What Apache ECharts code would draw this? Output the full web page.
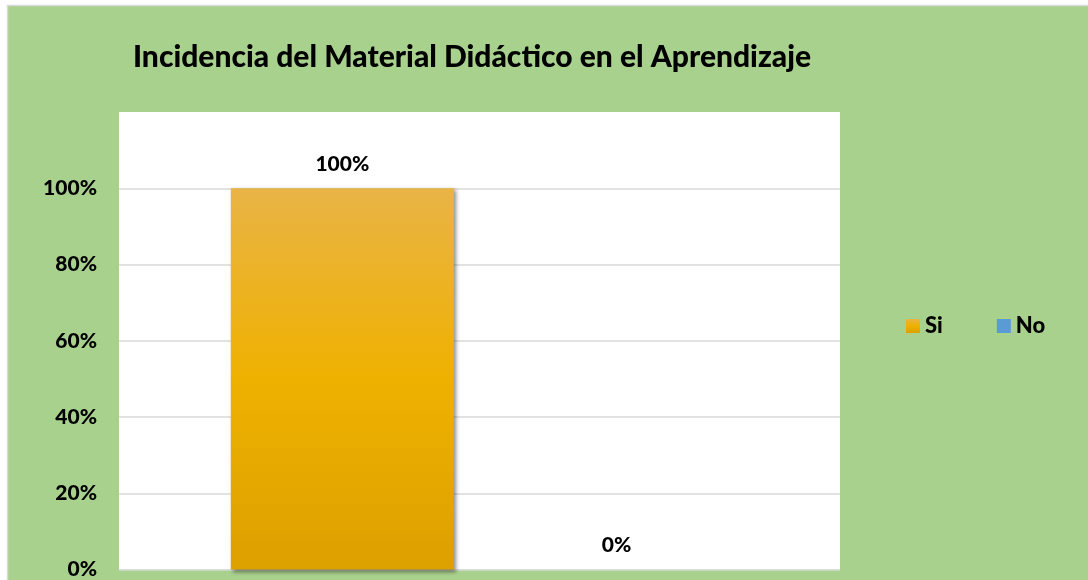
<!DOCTYPE html>
<html><head><meta charset="utf-8">
<script src="https://cdn.jsdelivr.net/npm/echarts@6/dist/echarts.min.js"></script>
<style>html,body{margin:0;padding:0;background:#fff}#c{width:1088px;height:580px}</style>
</head><body><div id="c"></div>
<script>
const categories = ['Incidencia'];
const seriesNames = ['Si', 'No'];
const siValues = [1.0];
const noValues = [0.0];
const yTicks = [0, 0.2, 0.4, 0.6, 0.8, 1.0];

const FONT = 'Lato, "Open Sans", sans-serif';
const chart = echarts.init(document.getElementById('c'));
const pct = v => Math.round(v * 100) + '%';
chart.setOption({
  animation: false,
  backgroundColor: '#ffffff',
  graphic: [{
    type: 'rect', z: -10, silent: true,
    shape: { x: 7.5, y: 5.5, width: 1090, height: 590 },
    style: { fill: '#A9D18E', stroke: '#D9D9D9', lineWidth: 1.5 }
  }],
  title: {
    text: 'Incidencia del Material Didáctico en el Aprendizaje',
    left: 128, top: 37,
    textStyle: { fontFamily: FONT, fontWeight: 900, fontSize: 30, color: '#000' }
  },
  legend: {
    data: seriesNames,
    left: 901, top: 310,
    itemWidth: 14, itemHeight: 14, itemGap: 54,
    icon: 'rect',
    textStyle: { fontFamily: FONT, fontWeight: 900, fontSize: 22, color: '#000' }
  },
  grid: {
    show: true, backgroundColor: '#ffffff', borderWidth: 0,
    left: 119, right: 248, top: 112, bottom: 10
  },
  xAxis: {
    type: 'category', data: categories,
    axisLine: { show: false }, axisTick: { show: false }, axisLabel: { show: false }
  },
  yAxis: {
    type: 'value', min: 0, max: 1.2, interval: 0.2,
    axisLine: { show: false }, axisTick: { show: false },
    axisLabel: {
      showMaxLabel: false, margin: 22,
      formatter: v => yTicks.some(t => Math.abs(t - v) < 1e-9) ? pct(v) : '',
      fontFamily: FONT, fontWeight: 900, fontSize: 21, color: '#000'
    },
    splitLine: { showMaxLine: false, lineStyle: { color: '#D9D9D9', width: 1.5 } }
  },
  series: [
    {
      name: 'Si', type: 'bar', data: siValues, barWidth: 223, barGap: '23%',
      itemStyle: {
        color: new echarts.graphic.LinearGradient(0, 0, 0, 1, [
          { offset: 0, color: '#E9B446' },
          { offset: 0.5, color: '#EFB100' },
          { offset: 1, color: '#DCA000' }
        ]),
        shadowColor: 'rgba(0,0,0,0.45)', shadowBlur: 4, shadowOffsetX: 2, shadowOffsetY: 2
      },
      label: { show: true, position: 'top', distance: 14, formatter: p => pct(p.value),
        fontFamily: FONT, fontWeight: 900, fontSize: 21, color: '#000' }
    },
    {
      name: 'No', type: 'bar', data: noValues, barWidth: 223,
      itemStyle: { color: '#5B9BD5' },
      label: { show: true, position: 'top', distance: 14, formatter: p => pct(p.value),
        fontFamily: FONT, fontWeight: 900, fontSize: 21, color: '#000' }
    }
  ]
});
</script></body></html>
